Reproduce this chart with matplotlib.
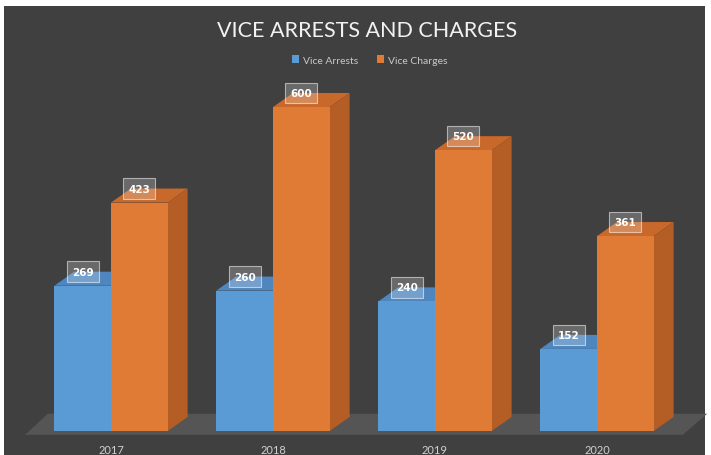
import matplotlib
matplotlib.use("Agg")
import matplotlib.pyplot as plt
from matplotlib.patches import Polygon, Patch
import numpy as np

years = ["2017", "2018", "2019", "2020"]
arrests = [269, 260, 240, 152]
charges = [423, 600, 520, 361]

BG = "#404040"
BLUE = ("#5b9bd5", "#4e86bd", "#44769f")      # front, top, side
ORANGE = ("#e07b35", "#c8682b", "#b45d25")
FLOOR = "#555555"

W = 0.35           # bar width (category units)
DX, DY = 0.123, 26  # 3d depth offset

fig = plt.figure(figsize=(7.11, 4.56), dpi=100, facecolor="white")
bg = fig.add_axes([0.006, 0, 0.986, 0.985]); bg.set_facecolor(BG); bg.set_xticks([]); bg.set_yticks([])
for s in bg.spines.values(): s.set_visible(False)
ax = fig.add_axes([0, 0, 1, 1]); ax.patch.set_alpha(0)
ax.set_xlim(-111 / 162, 600 / 162); ax.set_ylim(-24 / 0.54, 432 / 0.54)
ax.axis("off")

x = np.arange(len(years))

# floor slab
fl = Polygon([(-0.53, -7), (3.53, -7), (3.68, 32), (-0.39, 32)], closed=True,
             fc=FLOOR, ec="none", zorder=1)
ax.add_patch(fl)

def bar3d(xs, vals, cols, z):
    ax.bar(xs, vals, W, align="edge", color=cols[0], zorder=z + 2, lw=0)
    for xi, v in zip(xs, vals):
        ax.add_patch(Polygon([(xi, v), (xi + W, v), (xi + W + DX, v + DY), (xi + DX, v + DY)],
                             fc=cols[1], ec="none", zorder=z + 1))
        ax.add_patch(Polygon([(xi + W, 0), (xi + W + DX, DY), (xi + W + DX, v + DY), (xi + W, v)],
                             fc=cols[2], ec="none", zorder=z + 1))
        ax.text(xi + W / 2, v + DY, f"{v}", ha="center", va="center", color="white",
                fontsize=7.5, fontweight="bold", zorder=z + 3,
                bbox=dict(boxstyle="square,pad=0.5", fc=(1, 1, 1, 0.22), ec=(1, 1, 1, 0.55), lw=0.8))

bar3d(x - W, arrests, BLUE, 2)
bar3d(x, charges, ORANGE, 6)

for xi, y in zip(x, years):
    ax.text(xi, -34, y, ha="center", va="center", color="#d0d0d0", fontsize=8, family="Lato")

fig.text(0.516, 0.933, "VICE ARRESTS AND CHARGES", ha="center", va="center",
         color="#f2f2f2", fontsize=15.5, family="Lato")
handles = [Patch(fc=BLUE[0], label="Vice Arrests"), Patch(fc=ORANGE[0], label="Vice Charges")]
fig.legend(handles=handles, loc="center", bbox_to_anchor=(0.52, 0.866), ncol=2, frameon=False,
           labelcolor="#c8c8c8", handlelength=0.7, handleheight=0.7,
           handletextpad=0.4, columnspacing=1.8, prop={"family": "Lato", "size": 7.5})

fig.savefig("out.png", dpi=100, facecolor="white")
